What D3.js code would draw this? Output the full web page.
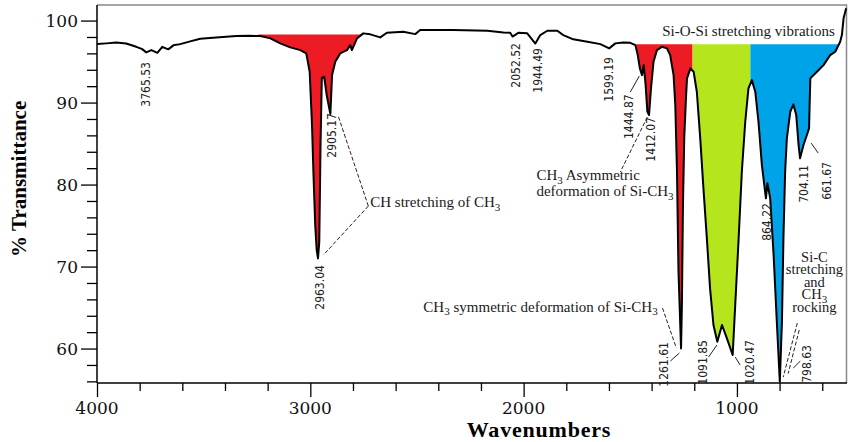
<!DOCTYPE html>
<html>
<head>
<meta charset="utf-8">
<script src="https://cdn.jsdelivr.net/npm/d3@7"></script>
<style>
  body { margin: 0; background: #fff; }
  svg { display: block; }
</style>
</head>
<body>
<div id="chart"></div>
<script>
// IR spectrum (wavenumber cm-1, % transmittance)
const wavenumber = [4000, 3956, 3910, 3863, 3816, 3790, 3769, 3745, 3717, 3694, 3666, 3642, 3610, 3563, 3516, 3441, 3347, 3290, 3235, 3187, 3141, 3094, 3047, 3019, 3003, 2992, 2985, 2977, 2970, 2964, 2958, 2952, 2946, 2935, 2923, 2906, 2898, 2883, 2860, 2828, 2813, 2805, 2781, 2752, 2719, 2672, 2641, 2564, 2508, 2485, 2330, 2170, 2095, 2063, 2052, 2025, 1983, 1945, 1922, 1889, 1842, 1814, 1767, 1701, 1640, 1599, 1570, 1533, 1500, 1476, 1465, 1455, 1445, 1437, 1428, 1420, 1412, 1403, 1391, 1375, 1352, 1328, 1313, 1297, 1289, 1281, 1274, 1262, 1258, 1253, 1247, 1239, 1234, 1218, 1203, 1188, 1172, 1157, 1141, 1126, 1110, 1092, 1070, 1047, 1020, 1008, 992, 977, 961, 946, 930, 914, 899, 883, 864, 857, 844, 828, 813, 799, 789, 782, 774, 766, 750, 735, 722, 711, 704, 688, 672, 662, 656, 625, 594, 563, 539, 516, 508, 500, 488];
const transmittance = [97.13, 97.22, 97.34, 97.2, 96.8, 96.55, 96.12, 96.4, 96.07, 96.8, 96.49, 96.98, 97.13, 97.46, 97.78, 97.95, 98.11, 98.15, 98.11, 97.83, 97.22, 96.73, 96.4, 96.0, 93.76, 87.26, 81.16, 75.06, 72.0, 71.0, 73.0, 85.0, 93.0, 93.15, 90.9, 88.6, 93.35, 94.98, 96.0, 96.4, 97.01, 96.4, 97.83, 98.44, 98.32, 97.95, 98.51, 98.63, 98.35, 98.84, 98.84, 98.76, 98.56, 98.51, 98.05, 98.51, 98.44, 97.2, 98.23, 98.76, 98.76, 98.23, 97.71, 97.41, 97.13, 96.61, 97.22, 97.34, 97.29, 97.01, 95.79, 94.17, 93.35, 94.57, 92.13, 88.9, 88.48, 91.7, 94.98, 96.4, 96.8, 96.61, 95.79, 93.35, 89.7, 81.56, 69.37, 60.02, 65.3, 77.5, 85.67, 90.51, 92.95, 94.17, 93.76, 91.32, 85.63, 79.54, 73.44, 67.34, 62.87, 60.83, 62.87, 61.24, 59.21, 65.3, 73.44, 81.56, 87.66, 91.73, 92.74, 91.32, 87.66, 82.38, 78.32, 80.15, 78.32, 71.4, 63.27, 55.95, 63.27, 73.44, 81.56, 85.63, 88.88, 89.78, 88.48, 84.82, 83.2, 84.82, 86.04, 86.85, 92.95, 93.76, 94.57, 95.79, 96.2, 97.41, 98.23, 100.27, 101.49];

// shaded bands: start / end wavenumber and the level of their flat top
const bandStart = [3244, 1472, 1208, 937];
const bandEnd = [2766, 1208, 937, 522];
const bandTop = [98.3, 97.1, 97.1, 97.1];
const bandColor = ['#ed1c24', '#ed1c24', '#b5e61d', '#00a2e8'];

// peak labels
const peakText = ['3765.53', '2963.04', '2905.17', '2052.52', '1944.49', '1599.19', '1444.87', '1412.07', '1261.61', '1091.85', '1020.47', '864.22', '798.63', '704.11', '661.67'];
// where each rotated label sits (wavenumber of its centre, % T of its top)
const peakLabelWn = [3769, 2956, 2898, 2039, 1935, 1602, 1508, 1402, 1341, 1159, 942, 858, 672, 688, 577];
const peakLabelTop = [94.94, 70.18, 88.72, 97.26, 96.65, 95.55, 91.0, 88.23, 60.79, 61.04, 61.04, 77.74, 60.43, 82.38, 82.74];

const xTicks = [4000, 3000, 2000, 1000];
const yTicks = [60, 70, 80, 90, 100];

const width = 848, height = 442;
const x = d3.scaleLinear().domain([4000, 484]).range([97, 847]);
const y = d3.scaleLinear().domain([55.8, 101.9]).range([383, 5]);

const svg = d3.select('#chart').append('svg')
  .attr('width', width)
  .attr('height', height);

const data = wavenumber.map((w, i) => ({ wn: w, t: transmittance[i] }));
const tAt = w => {
  for (let i = 0; i < data.length - 1; i++) {
    const a = data[i], b = data[i + 1];
    if (w <= a.wn && w >= b.wn) return a.t + (b.t - a.t) * (a.wn - w) / (a.wn - b.wn);
  }
  return data[data.length - 1].t;
};

// Bands
bandStart.forEach((s, i) => {
  const e = bandEnd[i], top = bandTop[i];
  const pts = [{ wn: s, t: tAt(s) }]
    .concat(data.filter(d => d.wn < s && d.wn > e))
    .concat([{ wn: e, t: tAt(e) }]);
  const area = d3.area()
    .x(d => x(d.wn))
    .y0(y(top))
    .y1(d => y(Math.min(d.t, top)));
  svg.append('path')
    .attr('d', area(pts))
    .attr('fill', bandColor[i]);
});

// Frame (top + right)
svg.append('path')
  .attr('d', `M${x(4000)},${y(101.9)}H${x(484) - 0.5}V${y(55.8)}`)
  .attr('fill', 'none')
  .attr('stroke', '#888')
  .attr('stroke-width', 1.5);

// Axes
const serif = "'DejaVu Serif', serif";
const xAxis = svg.append('g').attr('transform', `translate(0,${y(55.8)})`);
xAxis.call(d3.axisBottom(x).tickValues(d3.range(4000, 483, -200)).tickSize(8).tickFormat(''));
xAxis.selectAll('.tick line').filter(d => xTicks.includes(d)).attr('y2', 14);
xAxis.select('.domain').attr('d', `M${x(4000)},0H${x(484)}`).attr('stroke-width', 1.5);
xAxis.selectAll('.tick line').attr('stroke-width', 1.3);
xAxis.selectAll('.lbl').data(xTicks).enter().append('text')
  .attr('x', d => x(d))
  .attr('y', 31)
  .attr('text-anchor', 'middle')
  .attr('fill', '#111')
  .style('font-family', serif)
  .style('font-size', '17px')
  .text(d => d);

const yAxis = svg.append('g').attr('transform', `translate(${x(4000)},0)`);
yAxis.call(d3.axisLeft(y).tickValues(d3.range(56, 101, 2)).tickSize(10).tickFormat(''));
yAxis.selectAll('.tick line').filter(d => yTicks.includes(d)).attr('x2', -16);
yAxis.select('.domain').attr('d', `M0,${y(101.9)}V${y(55.8)}`).attr('stroke-width', 1.5);
yAxis.selectAll('.tick line').attr('stroke-width', 1.3);
yAxis.selectAll('.lbl').data(yTicks).enter().append('text')
  .attr('x', -19)
  .attr('y', d => y(d))
  .attr('dy', '0.36em')
  .attr('text-anchor', 'end')
  .attr('fill', '#111')
  .style('font-family', serif)
  .style('font-size', '17px')
  .text(d => d);

// Axis titles
svg.append('text')
  .attr('x', 539)
  .attr('y', 437)
  .attr('text-anchor', 'middle')
  .style('font-family', "'Liberation Serif', serif")
  .style('font-weight', 'bold')
  .style('font-size', '22px')
  .style('letter-spacing', '0.8px')
  .text('Wavenumbers');
svg.append('text')
  .attr('transform', `translate(26,${y(80.7)}) rotate(-90)`)
  .attr('text-anchor', 'middle')
  .style('font-family', "'Liberation Serif', serif")
  .style('font-weight', 'bold')
  .style('font-size', '21px')
  .text('% Transmittance');

// Spectrum line
const line = d3.line().x(d => x(d.wn)).y(d => y(d.t));
svg.append('path')
  .attr('d', line(data))
  .attr('fill', 'none')
  .attr('stroke', '#000')
  .attr('stroke-width', 2)
  .attr('stroke-linejoin', 'round');

// Peak labels
svg.append('g').selectAll('text')
  .data(peakText)
  .enter()
  .append('text')
  .attr('transform', (d, i) => `translate(${x(peakLabelWn[i])},${y(peakLabelTop[i])}) rotate(-90)`)
  .attr('dy', '0.35em')
  .attr('text-anchor', 'end')
  .attr('fill', '#222')
  .style('font-family', "'Liberation Sans Narrow', 'DejaVu Sans Condensed', sans-serif")
  .style('font-size', '12px')
  .text(d => d);

// Leader lines [wn1, t1, wn2, t2, dashed]
const leaders = [
  [2728, 77.38, 2869, 88.35, true],
  [2728, 77.38, 2939, 71.4, true],
  [1500, 91.28, 1458, 93.23, false],
  [1420, 88.23, 1547, 81.52, true],
  [1349, 64.94, 1284, 60.06, true],
  [1312, 58.48, 1270, 59.45, false],
  [1133, 58.96, 1094, 60.43, false],
  [1008, 58.96, 985, 57.99, false],
  [717, 63.11, 783, 56.52, true],
  [708, 62.26, 760, 56.94, true],
  [736, 57.62, 703, 58.47, false],
  [652, 85.06, 619, 83.84, false]
];
svg.append('g').selectAll('line')
  .data(leaders)
  .enter()
  .append('line')
  .attr('x1', d => x(d[0])).attr('y1', d => y(d[1]))
  .attr('x2', d => x(d[2])).attr('y2', d => y(d[3]))
  .attr('stroke', '#222')
  .attr('stroke-width', 1)
  .attr('stroke-dasharray', d => d[4] ? '4,2' : null);

// Text annotations with subscripts; several lines go into one text element
// lines: [[%T of baseline, parts], ...]; a part starting with '_' is a subscript
const note = (wn, lines, anchor, size) => {
  const txt = svg.append('text')
    .attr('text-anchor', anchor || 'start')
    .attr('fill', '#1a1a1a')
    .style('font-family', "'Liberation Serif', serif")
    .style('font-size', (size || 15) + 'px');
  lines.forEach(([t, parts]) => {
    const row = txt.append('tspan').attr('x', x(wn)).attr('y', y(t));
    let shifted = false;
    parts.forEach(p => {
      if (p.startsWith('_')) {
        row.append('tspan').attr('dy', 3.5).style('font-size', '11px').text(p.slice(1));
        shifted = true;
      } else {
        row.append('tspan').attr('dy', shifted ? -3.5 : null).text(p);
        shifted = false;
      }
    });
  });
};
note(2719, [[77.26, ['CH stretching of CH', '_3']]]);
note(1940, [[80.55, ['CH', '_3', ' Asymmetric']], [78.6, ['deformation of Si-CH', '_3']]]);
note(2470, [[64.49, ['CH', '_3', ' symmetric deformation of Si-CH', '_3']]]);
note(1350, [[98.15, ['Si-O-Si stretching vibrations']]]);
note(637, [
  [70.61, ['Si-C']],
  [69.09, ['stretching']],
  [67.56, ['and']],
  [66.04, ['CH', '_3']],
  [64.51, ['rocking']]
], 'middle', 14.5);
</script>
</body>
</html>
